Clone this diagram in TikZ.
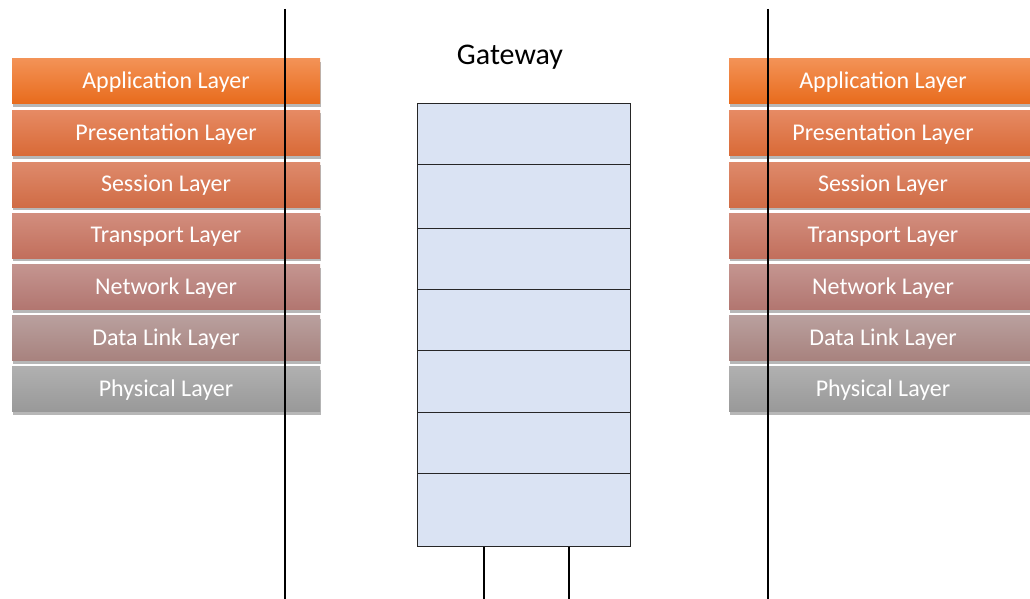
\documentclass[tikz,border=0pt]{standalone}
\usepackage{fontspec}
\setmainfont{Carlito}
\usetikzlibrary{shadows}
\definecolor{gwfill}{HTML}{DAE3F3}
\definecolor{aT}{HTML}{F39256}\definecolor{aB}{HTML}{E86B1C}
\definecolor{pT}{HTML}{E68A64}\definecolor{pB}{HTML}{D96A36}
\definecolor{sT}{HTML}{DE8A6C}\definecolor{sB}{HTML}{D06C45}
\definecolor{tT}{HTML}{D28E7E}\definecolor{tB}{HTML}{C26F5C}
\definecolor{nT}{HTML}{C49590}\definecolor{nB}{HTML}{B27670}
\definecolor{dT}{HTML}{B9A09E}\definecolor{dB}{HTML}{A8827E}
\definecolor{yT}{HTML}{B0B0B0}\definecolor{yB}{HTML}{999999}
\begin{document}
\begin{tikzpicture}[x=1pt,y=-1pt,
  layer/.style={minimum width=308pt,minimum height=45pt,inner sep=0pt,
    text=white,font=\fontsize{24}{28}\selectfont,text depth=2pt,
    drop shadow={shadow xshift=1pt,shadow yshift=-3pt,opacity=0.4,fill=black!70}},
  gw/.style={draw=black!85,line width=0.9pt,fill=gwfill,inner sep=0pt},
  wire/.style={line width=2.2pt,black}]
\useasboundingbox (0,0) rectangle (1030,599);
\fill[white] (0,0) rectangle (1030,599);
\begin{scope}
\clip (0,0) rectangle (1030,599);
\foreach \side/\cx in {L/166,R/883}{
  \node[layer,top color=aT,bottom color=aB] (\side1) at (\cx,81.5) {Application Layer};
  \node[layer,top color=pT,bottom color=pB] (\side2) at (\cx,133) {Presentation Layer};
  \node[layer,top color=sT,bottom color=sB] (\side3) at (\cx,184.5) {Session Layer};
  \node[layer,top color=tT,bottom color=tB] (\side4) at (\cx,235.5) {Transport Layer};
  \node[layer,top color=nT,bottom color=nB] (\side5) at (\cx,287) {Network Layer};
  \node[layer,top color=dT,bottom color=dB] (\side6) at (\cx,338) {Data Link Layer};
  \node[layer,top color=yT,bottom color=yB] (\side7) at (\cx,389) {Physical Layer};
}
\end{scope}
\coordinate (lt) at (285,9); \coordinate (lb) at (285,599);
\coordinate (rt) at (768,9); \coordinate (rb) at (768,599);
\draw[wire] (lt) -- (lb);
\draw[wire] (rt) -- (rb);
\node[font=\fontsize{30}{34}\selectfont,text depth=2pt] (title) at (510,56) {Gateway};
\foreach \i/\ya/\yb in {1/103/164,2/164/228,3/228/289,4/289/350,5/350/412,6/412/473,7/473/546}{
  \node[gw,minimum width=213pt,minimum height={\yb-\ya},anchor=north west] (g\i) at (417,\ya) {};
}
\coordinate (b1) at (484,599); \coordinate (b2) at (569,599);
\draw[wire] (g7.south -| b1) -- (b1);
\draw[wire] (g7.south -| b2) -- (b2);
\end{tikzpicture}
\end{document}
